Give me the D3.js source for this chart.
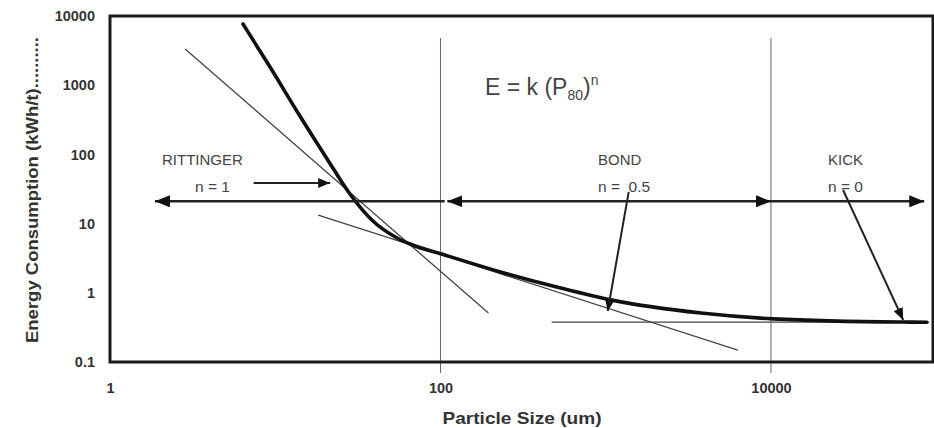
<!DOCTYPE html>
<html>
<head>
<meta charset="utf-8">
<script src="https://cdn.jsdelivr.net/npm/d3@7"></script>
<style>
  body { margin: 0; background: #fff; }
  text { font-family: Arial, "Liberation Sans", sans-serif; }
</style>
</head>
<body>
<svg id="chart" width="934" height="428"></svg>
<script>
// Axis ticks
const sizeTicks = [1, 100, 10000];
const energyTicks = [0.1, 1, 10, 100, 1000, 10000];

// Specific energy vs. particle size (P80, um -> kWh/t)
const curveSize   = [6.38, 9.3, 14.1, 20.6, 28.3, 39.0, 54.6, 65.4, 106, 231, 534, 1072, 3770, 10300, 61000, 88000];
const curveEnergy = [7660, 1830, 359, 86, 26.8, 10.9, 6.2, 5.07, 3.52, 2.0, 1.17, 0.79, 0.51, 0.42, 0.378, 0.376];

// Tangent lines for the three comminution laws
const rittingerSize = [2.85, 195];
const rittingerEnergy = [3330, 0.51];
const bondSize = [18.2, 6300];
const bondEnergy = [13.3, 0.149];
const kickSize = [471, 87000];
const kickEnergy = [0.378, 0.378];

// Regime ranges on the size axis (drawn as arrows at one energy level)
const regimeNames = ["RITTINGER", "BOND", "KICK"];
const regimeExponents = ["n = 1", "n =  0.5", "n = 0"];
const regimeFrom = [106, 110, 10000];
const regimeTo = [1.87, 10000, 84600];
const regimeEnergy = 21;

// Pointer arrows from the labels to the curve
const pointerFromSize = [7.4, 1377, 27300];
const pointerFromEnergy = [38.6, 28.7, 30.6];
const pointerToSize = [21.5, 1028, 63100];
const pointerToEnergy = [38.6, 0.546, 0.405];

const svg = d3.select("#chart");
const L = 110, T = 16, R = 933, B = 362;

const x = d3.scaleLog().domain([1, 95600]).range([L, R]);
const y = d3.scaleLog().domain([0.1, 10000]).range([B, T]);

// Arrowhead markers
const defs = svg.append("defs");
function marker(id, len, half) {
  defs.append("marker")
    .attr("id", id)
    .attr("markerUnits", "userSpaceOnUse")
    .attr("viewBox", `0 ${-half} ${len} ${2 * half}`)
    .attr("refX", len).attr("refY", 0)
    .attr("markerWidth", len).attr("markerHeight", 2 * half)
    .attr("orient", "auto-start-reverse")
    .append("path")
    .attr("d", `M0,${-half}L${len},0L0,${half}Z`)
    .attr("fill", "#111");
}
marker("headBig", 15, 6);
marker("headSmall", 12, 5);

// Vertical reference lines at 100 and 10000 um (extend below frame as ticks)
svg.append("g").selectAll("line")
  .data([100, 10000])
  .join("line")
  .attr("x1", d => x(d)).attr("x2", d => x(d))
  .attr("y1", y(4800)).attr("y2", B + 11)
  .attr("stroke", "#666").attr("stroke-width", 1);

// Tangent lines
const line = d3.line().x(d => x(d[0])).y(d => y(d[1]));
[[rittingerSize, rittingerEnergy], [bondSize, bondEnergy], [kickSize, kickEnergy]].forEach(([s, e]) => {
  svg.append("path")
    .attr("d", line(d3.zip(s, e)))
    .attr("fill", "none")
    .attr("stroke", "#444")
    .attr("stroke-width", 1.3);
});

// Main energy-size curve
svg.append("path")
  .attr("d", d3.line().x(d => x(d[0])).y(d => y(d[1])).curve(d3.curveMonotoneX)(d3.zip(curveSize, curveEnergy)))
  .attr("fill", "none")
  .attr("stroke", "#111")
  .attr("stroke-width", 3.6)
  .attr("stroke-linecap", "round");

// Regime range arrows
svg.append("g").selectAll("line")
  .data(d3.range(regimeNames.length))
  .join("line")
  .attr("x1", i => x(regimeFrom[i])).attr("x2", i => x(regimeTo[i]))
  .attr("y1", y(regimeEnergy)).attr("y2", y(regimeEnergy))
  .attr("stroke", "#222").attr("stroke-width", 2.6)
  .attr("marker-start", i => i === 1 ? "url(#headBig)" : null)
  .attr("marker-end", "url(#headBig)");

// Pointer arrows
svg.append("g").selectAll("line")
  .data(d3.range(pointerFromSize.length))
  .join("line")
  .attr("x1", i => x(pointerFromSize[i])).attr("y1", i => y(pointerFromEnergy[i]))
  .attr("x2", i => x(pointerToSize[i])).attr("y2", i => y(pointerToEnergy[i]))
  .attr("stroke", "#222").attr("stroke-width", 2)
  .attr("marker-end", "url(#headSmall)");

// Frame
svg.append("rect")
  .attr("x", L).attr("y", T)
  .attr("width", R - L).attr("height", B - T)
  .attr("fill", "none").attr("stroke", "#1a1a1a").attr("stroke-width", 3);

// Axes (labels only)
const yAxis = svg.append("g")
  .attr("transform", `translate(${L - 12},0)`)
  .call(d3.axisLeft(y).tickValues(energyTicks).tickSize(0).tickFormat(d3.format("~g")));
yAxis.select(".domain").remove();
yAxis.selectAll("text")
  .attr("font-size", 14.5).attr("font-weight", "bold").attr("fill", "#333")
  .attr("font-family", "Arial, 'Liberation Sans', sans-serif");

const xAxis = svg.append("g")
  .attr("transform", `translate(0,${B + 18})`)
  .call(d3.axisBottom(x).tickValues(sizeTicks).tickSize(0).tickFormat(d3.format("~g")));
xAxis.select(".domain").remove();
xAxis.selectAll("text")
  .attr("font-size", 14.5).attr("font-weight", "bold").attr("fill", "#333")
  .attr("font-family", "Arial, 'Liberation Sans', sans-serif");

// Axis titles
svg.append("text")
  .attr("x", 522).attr("y", 424)
  .attr("text-anchor", "middle")
  .attr("font-size", 16.5).attr("font-weight", "bold").attr("fill", "#333")
  .attr("textLength", 159).attr("lengthAdjust", "spacingAndGlyphs")
  .text("Particle Size (um)");

svg.append("text")
  .attr("transform", "translate(38,190) rotate(-90)")
  .attr("text-anchor", "middle")
  .attr("font-size", 16).attr("font-weight", "bold").attr("fill", "#333")
  .attr("textLength", 306).attr("lengthAdjust", "spacingAndGlyphs")
  .text("Energy Consumption (kWh/t)..........");

// Regime labels
const nameX = [162, 598, 828];
svg.append("g").selectAll("text")
  .data(regimeNames)
  .join("text")
  .attr("x", (d, i) => nameX[i]).attr("y", 165)
  .attr("font-size", 15).attr("fill", "#444")
  .text(d => d);
const expX = [195, 598, 828];
svg.append("g").selectAll("text")
  .data(regimeExponents)
  .join("text")
  .attr("x", (d, i) => expX[i]).attr("y", 192)
  .attr("font-size", 15.5).attr("fill", "#444")
  .attr("xml:space", "preserve")
  .style("white-space", "pre")
  .text(d => d);

// Formula
const f = svg.append("text")
  .attr("x", 485).attr("y", 95)
  .attr("font-size", 23).attr("fill", "#444");
f.append("tspan").text("E = k (P");
f.append("tspan").attr("dy", 5).attr("font-size", 14).text("80");
f.append("tspan").attr("dy", -5).text(")");
f.append("tspan").attr("dy", -10).attr("font-size", 14).text("n");
</script>
</body>
</html>
